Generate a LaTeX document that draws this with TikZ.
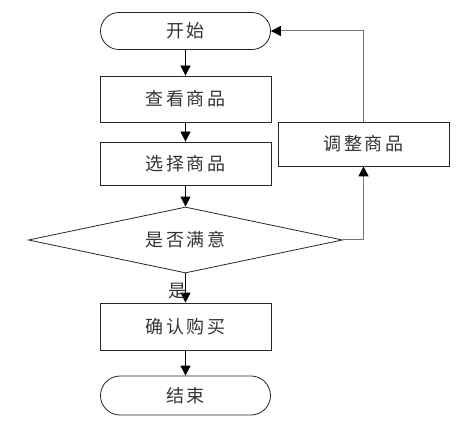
\documentclass[tikz,border=0pt]{standalone}
\usepackage{fontspec}
\newfontfamily\cjk[LetterSpace=14]{Noto Sans CJK SC}
\usetikzlibrary{shapes.misc,shapes.geometric,arrows.meta}
\begin{document}
\begin{tikzpicture}[x=1pt,y=-1pt,
  every node/.style={font=\cjk\fontsize{18}{20}\selectfont, text=black!80},
  term/.style={draw=black!85, line width=0.8pt, rounded rectangle, minimum width=170pt, minimum height=37pt, inner sep=0pt},
  proc/.style={draw=black!85, line width=0.8pt, rectangle, minimum width=171pt, inner sep=0pt},
  dec/.style={draw=black!85, line width=0.8pt, diamond, aspect=4.76, minimum width=314pt, minimum height=66pt, inner sep=0pt},
  arr/.style={draw=black, line width=0.8pt, -{Triangle[length=10pt,width=10pt]}},
  garr/.style={draw=black!55, line width=1pt, -{Triangle[length=10pt,width=10pt,color=black]}}
]
\useasboundingbox (0,0) rectangle (466,422);
\node[term] (start) at (185.5,31) {开始};
\node[proc, minimum height=46pt] (view) at (185.5,99) {查看商品};
\node[proc, minimum height=43pt] (select) at (185.5,163.5) {选择商品};
\node[dec] (sat) at (185.5,240) {是否满意};
\node[proc, minimum height=47pt] (confirm) at (185.5,326.5) {确认购买};
\node[term, minimum height=39pt] (end) at (185.5,395.5) {结束};
\node[proc, minimum height=44pt] (adjust) at (363.5,144) {调整商品};
\draw[arr] (start) -- (view);
\draw[arr] (view) -- (select);
\draw[arr] (select) -- (sat);
\draw[arr] (sat) -- node[left, xshift=2pt, yshift=-3pt, inner sep=1pt] {是} (confirm);
\draw[arr] (confirm) -- (end);
\draw[garr] (sat.east) -| (adjust.south);
\draw[garr] (adjust.north) |- (start.east);
\end{tikzpicture}
\end{document}
